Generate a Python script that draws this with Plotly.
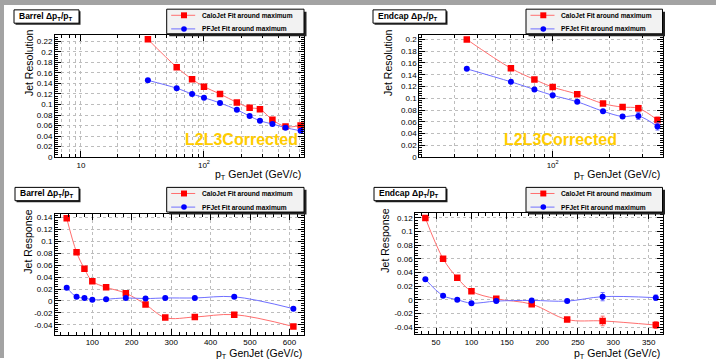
import plotly.graph_objects as go

# ---------------- data ----------------
pt_barrel = [35, 60, 80, 100, 135, 185, 235, 285, 360, 460, 610]
pt_endcap = [35, 60, 80, 100, 135, 185, 235, 285, 360]

res_barrel_calo = [0.224, 0.171, 0.148, 0.134, 0.120, 0.104, 0.094, 0.091, 0.071, 0.058, 0.060]
res_barrel_calo_err = [0.001, 0.001, 0.001, 0.001, 0.001, 0.001, 0.001, 0.001, 0.001, 0.002, 0.002]
res_barrel_pf = [0.146, 0.131, 0.120, 0.113, 0.103, 0.090, 0.078, 0.069, 0.063, 0.056, 0.050]
res_barrel_pf_err = [0.001, 0.001, 0.001, 0.001, 0.001, 0.001, 0.001, 0.001, 0.001, 0.002, 0.002]

res_endcap_calo = [0.200, 0.151, 0.132, 0.119, 0.107, 0.091, 0.085, 0.083, 0.063]
res_endcap_calo_err = [0.001, 0.001, 0.001, 0.001, 0.001, 0.002, 0.002, 0.005, 0.005]
res_endcap_pf = [0.150, 0.128, 0.115, 0.105, 0.094, 0.078, 0.069, 0.070, 0.052]
res_endcap_pf_err = [0.001, 0.001, 0.001, 0.001, 0.001, 0.002, 0.002, 0.006, 0.006]

rsp_barrel_calo = [0.139, 0.082, 0.054, 0.033, 0.023, 0.013, -0.006, -0.028, -0.027, -0.023, -0.043]
rsp_barrel_calo_err = [0.001, 0.001, 0.001, 0.001, 0.001, 0.001, 0.001, 0.001, 0.001, 0.001, 0.003]
rsp_barrel_pf = [0.022, 0.007, 0.005, 0.002, 0.003, 0.005, 0.004, 0.005, 0.005, 0.007, -0.013]
rsp_barrel_pf_err = [0.001, 0.001, 0.001, 0.001, 0.001, 0.001, 0.001, 0.001, 0.001, 0.001, 0.002]

rsp_endcap_calo = [0.1195, 0.060, 0.032, 0.0125, 0.0015, -0.0065, -0.029, -0.031, -0.037]
rsp_endcap_calo_err = [0.001, 0.001, 0.001, 0.001, 0.001, 0.001, 0.003, 0.007, 0.005]
rsp_endcap_pf = [0.030, 0.006, 0.000, -0.005, -0.002, -0.001, -0.002, 0.0045, 0.003]
rsp_endcap_pf_err = [0.001, 0.001, 0.001, 0.001, 0.001, 0.001, 0.002, 0.006, 0.004]

# tick values / labels
res_barrel_yticks = [0, 0.02, 0.04, 0.06, 0.08, 0.1, 0.12, 0.14, 0.16, 0.18, 0.2, 0.22]
res_endcap_yticks = [0, 0.02, 0.04, 0.06, 0.08, 0.1, 0.12, 0.14, 0.16, 0.18, 0.2]
rsp_barrel_yticks = [-0.04, -0.02, 0, 0.02, 0.04, 0.06, 0.08, 0.1, 0.12, 0.14]
rsp_endcap_yticks = [-0.04, -0.02, 0, 0.02, 0.04, 0.06, 0.08, 0.1, 0.12]
barrel_log_major = [10, 100]
barrel_log_major_text = ["10", "10<sup>2</sup>"]
endcap_log_major = [100]
endcap_log_major_text = ["10<sup>2</sup>"]
log_minor = [7, 8, 9, 20, 30, 40, 50, 60, 70, 80, 90, 200, 300, 400, 500, 600]
rsp_barrel_xticks = [100, 200, 300, 400, 500, 600]
rsp_endcap_xticks = [50, 100, 150, 200, 250, 300, 350]

legend_labels = ["CaloJet Fit around maximum", "PFJet Fit around maximum"]
panel_titles = ["Barrel \u0394p<sub>T</sub>/p<sub>T</sub>", "Endcap \u0394p<sub>T</sub>/p<sub>T</sub>",
                "Barrel \u0394p<sub>T</sub>/p<sub>T</sub>", "Endcap \u0394p<sub>T</sub>/p<sub>T</sub>"]
y_titles = ["Jet Resolution", "Jet Resolution", "Jet Response", "Jet Response"]
x_title = "p<sub>T</sub> GenJet (GeV/c)"
stamp = "L2L3Corrected"

# ---------------- styling ----------------
W, H = 716, 363
FONT = "Liberation Sans, Arial, Helvetica, sans-serif"
CALO_LINE, CALO_MARK = "#ff6f6f", "#ff0000"
PF_LINE, PF_MARK = "#6f6fff", "#0000ff"


def fx(x):
    return x / W


def fy(y):
    return 1 - y / H


# frame pixel boxes: (left, right, top, bottom)
frames = [
    (55, 304, 35, 159.3),
    (419.3, 662.7, 35, 159.3),
    (55, 304, 216.7, 339.3),
    (415.3, 663.3, 215.7, 339),
]
legend_boxes = [
    (166.7, 9.3, 304, 34.3),
    (526, 9.3, 662.5, 34.3),
    (166.7, 190, 304, 215),
    (526, 190, 662.5, 215),
]
title_boxes = [
    (14, 10, 79, 23.5),
    (373, 10, 446, 23.5),
    (15, 190, 79, 203.5),
    (374, 190, 446, 203.5),
]
ytitle_pos = [(29, 64), (388, 64), (28, 245), (385, 244)]
xtitle_pos = [(303, 177), (662, 177), (304, 358.5), (662, 358.5)]

panels = [
    dict(x=pt_barrel, calo=res_barrel_calo, calo_e=res_barrel_calo_err,
         pf=res_barrel_pf, pf_e=res_barrel_pf_err),
    dict(x=pt_endcap, calo=res_endcap_calo, calo_e=res_endcap_calo_err,
         pf=res_endcap_pf, pf_e=res_endcap_pf_err),
    dict(x=pt_barrel, calo=rsp_barrel_calo, calo_e=rsp_barrel_calo_err,
         pf=rsp_barrel_pf, pf_e=rsp_barrel_pf_err),
    dict(x=pt_endcap, calo=rsp_endcap_calo, calo_e=rsp_endcap_calo_err,
         pf=rsp_endcap_pf, pf_e=rsp_endcap_pf_err),
]

fig = go.Figure()

for i, p in enumerate(panels):
    ax = "" if i == 0 else str(i + 1)
    for vals, errs, lc, mc, sym, ms in [
        (p["calo"], p["calo_e"], CALO_LINE, CALO_MARK, "square", 6.5),
        (p["pf"], p["pf_e"], PF_LINE, PF_MARK, "circle", 6),
    ]:
        fig.add_trace(go.Scatter(
            x=p["x"], y=vals, mode="lines+markers",
            line=dict(color=lc, width=1, shape="spline", smoothing=1.0),
            marker=dict(color=mc, symbol=sym, size=ms, line=dict(width=0)),
            error_y=dict(type="data", array=errs, color=lc, thickness=1, width=2),
            xaxis="x" + ax, yaxis="y" + ax, showlegend=False, hoverinfo="skip",
        ))

axis_common = dict(
    showline=True, linecolor="black", linewidth=1, mirror="allticks",
    ticks="inside", tickcolor="black", ticklen=6, tickwidth=1,
    showgrid=True, gridcolor="#bdbdbd", griddash="dot", gridwidth=1,
    zeroline=False, tickfont=dict(family=FONT, size=8, color="black"),
)


def ylab(vals):
    return [f"{v:g}" for v in vals]


log_minor_style = dict(tickmode="array", tickvals=log_minor, ticks="inside", ticklen=3,
                       tickcolor="black", showgrid=True, gridcolor="#bdbdbd", griddash="dot")

y_specs = [
    (res_barrel_yticks, [0, 0.2331], 0.004),
    (res_endcap_yticks, [0, 0.2084], 0.004),
    (rsp_barrel_yticks, [-0.0566, 0.1466], 0.004),
    (rsp_endcap_yticks, [-0.0506, 0.1273], 0.004),
]
x_specs = [
    dict(type="log", range=[0.789, 2.813], tickmode="array", tickvals=barrel_log_major,
         ticktext=barrel_log_major_text, minor=log_minor_style),
    dict(type="log", range=[1.292, 2.584], tickmode="array", tickvals=endcap_log_major,
         ticktext=endcap_log_major_text, minor=log_minor_style),
    dict(type="linear", range=[5.3, 637], tickmode="array", tickvals=rsp_barrel_xticks,
         ticktext=[str(v) for v in rsp_barrel_xticks],
         minor=dict(tickmode="linear", tick0=0, dtick=20, ticks="inside", ticklen=3,
                    tickcolor="black", showgrid=False)),
    dict(type="linear", range=[20.8, 370.6], tickmode="array", tickvals=rsp_endcap_xticks,
         ticktext=[str(v) for v in rsp_endcap_xticks],
         minor=dict(tickmode="linear", tick0=0, dtick=10, ticks="inside", ticklen=3,
                    tickcolor="black", showgrid=False)),
]

layout_axes = {}
for i, (l, r, t, b) in enumerate(frames):
    ax = "" if i == 0 else str(i + 1)
    yt, yr, ymin = y_specs[i]
    xa = dict(axis_common)
    xa.update(x_specs[i])
    xa.update(domain=[fx(l), fx(r)], anchor="y" + ax)
    ya = dict(axis_common)
    ya.update(domain=[fy(b), fy(t)], anchor="x" + ax, range=yr,
              tickmode="array", tickvals=yt, ticktext=ylab(yt),
              minor=dict(tickmode="linear", tick0=0, dtick=ymin, ticks="inside",
                         ticklen=3, tickcolor="black", showgrid=False))
    layout_axes["xaxis" + ax] = xa
    layout_axes["yaxis" + ax] = ya

shapes = []
annotations = []

# window edge bands
shapes.append(dict(type="rect", xref="paper", yref="paper", x0=0, x1=1, y0=fy(5), y1=1,
                   fillcolor="#a3a3a3", line=dict(width=0), layer="above"))
shapes.append(dict(type="rect", xref="paper", yref="paper", x0=0, x1=fx(4), y0=0, y1=1,
                   fillcolor="#a3a3a3", line=dict(width=0), layer="above"))

for i in range(4):
    # legend box with drop shadow
    x0, y0, x1, y1 = legend_boxes[i]
    shapes.append(dict(type="rect", xref="paper", yref="paper",
                       x0=fx(x0 + 2.5), x1=fx(x1 + 2.5), y0=fy(y1 + 2.5), y1=fy(y0 + 2.5),
                       fillcolor="#222222", line=dict(width=0), layer="above"))
    shapes.append(dict(type="rect", xref="paper", yref="paper",
                       x0=fx(x0), x1=fx(x1), y0=fy(y1), y1=fy(y0),
                       fillcolor="#f2f2f2", line=dict(color="black", width=1), layer="above"))
    for k, (lc, mc, kind) in enumerate([(CALO_LINE, CALO_MARK, "rect"),
                                         (PF_LINE, PF_MARK, "circle")]):
        ry = y0 + 6.2 + k * 13.8
        shapes.append(dict(type="line", xref="paper", yref="paper",
                           x0=fx(x0 + 4.5), x1=fx(x0 + 28.5), y0=fy(ry), y1=fy(ry),
                           line=dict(color=lc, width=1), layer="above"))
        hs = 3.0 if kind == "rect" else 2.8
        shapes.append(dict(type=kind, xref="paper", yref="paper",
                           x0=fx(x0 + 17.3 - hs), x1=fx(x0 + 17.3 + hs),
                           y0=fy(ry + hs), y1=fy(ry - hs),
                           fillcolor=mc, line=dict(width=0), layer="above"))
        annotations.append(dict(text="<b>" + legend_labels[k] + "</b>", xref="paper", yref="paper",
                                x=fx(x0 + 33.3), y=fy(ry), xanchor="left", yanchor="middle",
                                showarrow=False, font=dict(family=FONT, size=6.6, color="black")))

    # panel title box
    tx0, ty0, tx1, ty1 = title_boxes[i]
    shapes.append(dict(type="rect", xref="paper", yref="paper",
                       x0=fx(tx0 + 1.5), x1=fx(tx1 + 1.5), y0=fy(ty1 + 1.5), y1=fy(ty0 + 1.5),
                       fillcolor="#222222", line=dict(width=0), layer="above"))
    shapes.append(dict(type="rect", xref="paper", yref="paper",
                       x0=fx(tx0), x1=fx(tx1), y0=fy(ty1), y1=fy(ty0),
                       fillcolor="white", line=dict(color="black", width=1), layer="above"))
    annotations.append(dict(text="<b>" + panel_titles[i] + "</b>", xref="paper", yref="paper",
                            x=fx(tx0 + 2.5), y=fy((ty0 + ty1) / 2 - 0.5), xanchor="left",
                            yanchor="middle", showarrow=False,
                            font=dict(family=FONT, size=8.5, color="black")))

    # axis titles
    yx, yy = ytitle_pos[i]
    annotations.append(dict(text=y_titles[i], xref="paper", yref="paper", x=fx(yx), y=fy(yy),
                            xanchor="center", yanchor="middle", textangle=-90, showarrow=False,
                            font=dict(family=FONT, size=10.5, color="black")))
    xx, xy = xtitle_pos[i]
    annotations.append(dict(text=x_title, xref="paper", yref="paper", x=fx(xx), y=fy(xy),
                            xanchor="right", yanchor="middle", showarrow=False,
                            font=dict(family=FONT, size=10.5, color="black")))

# correction-level stamp on the resolution panels
for sx in (241.5, 560):
    annotations.append(dict(text="<b>" + stamp + "</b>", xref="paper", yref="paper",
                            x=fx(sx), y=fy(141.5), xanchor="center", yanchor="middle",
                            showarrow=False, font=dict(family=FONT, size=16, color="#ffcc00")))

fig.update_layout(
    width=W, height=H, margin=dict(l=0, r=0, t=0, b=0),
    paper_bgcolor="white", plot_bgcolor="white", showlegend=False,
    shapes=shapes, annotations=annotations, **layout_axes,
)

fig.write_html("out.html")
